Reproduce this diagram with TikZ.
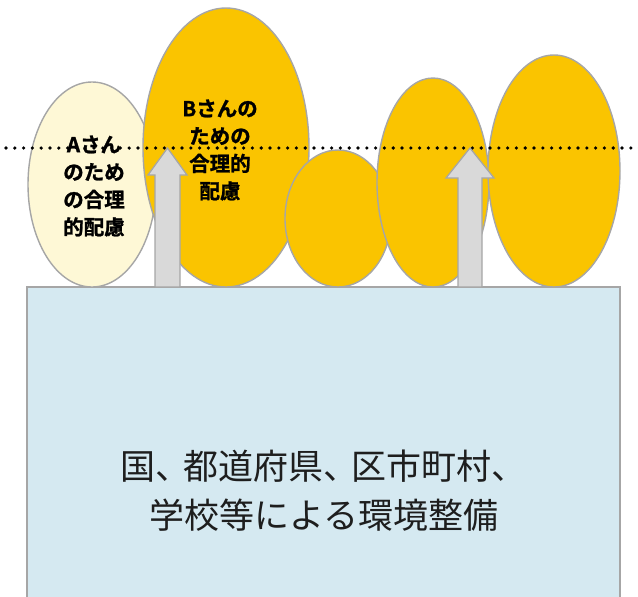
\documentclass[tikz,border=0pt]{standalone}
\usepackage{fontspec}
\newfontfamily\jpfont{Noto Sans CJK JP}
\newfontfamily\jpbold{Noto Sans CJK JP}[BoldFont={* Bold}, BoldFeatures={FakeBold=1.2}]
\usetikzlibrary{shapes.geometric}
\definecolor{gold}{HTML}{FAC400}
\definecolor{cream}{HTML}{FEF8D6}
\definecolor{paleblue}{HTML}{D5E9F1}
\definecolor{edgegray}{HTML}{A6A6A6}
\definecolor{arrowgray}{HTML}{D9D9D9}
\definecolor{txtdark}{HTML}{1E1E1E}
\newcommand{\jc}{、\kern-7pt}
\tikzset{
  blob/.style={ellipse, draw=edgegray, line width=1.4pt, inner sep=0pt},
  blobtext/.style={align=center, text=black, font=\jpbold\bfseries\fontsize{20.5}{27.5}\selectfont},
  uparrow/.style={fill=arrowgray, draw=edgegray, line width=1.3pt, line join=miter},
  levelline/.style={line width=3.6pt, dash pattern=on 0pt off 8.8pt, line cap=round, black}
}
\begin{document}
\begin{tikzpicture}[x=1pt, y=-1pt]
\useasboundingbox (0,0) rectangle (638,597);
\fill[white] (0,0) rectangle (638,597);
% base rectangle
\fill[paleblue] (27,287) rectangle (620,597);
\draw[edgegray, line width=1.4pt] (27,600) -- (27,287) -- (620,287) -- (620,600);
\node[align=center, text=txtdark, font=\jpfont\fontsize{35}{49}\selectfont] (base) at (323.5,491) {国\jc 都道府県\jc 区市町村、\\学校等による環境整備};
% ellipses
\node[blob, fill=cream, minimum width=128pt, minimum height=205pt] (A) at (92,184.5) {};
\node[blobtext] (Atext) at (94,186) {Aさん\\のため\\の合理\\的配慮};
\node[blob, fill=gold, minimum width=166pt, minimum height=279pt] (B) at (226,147.5) {};
\node[blobtext] (Btext) at (220,150) {Bさんの\\ための\\合理的\\配慮};
\node[blob, fill=gold, minimum width=106pt, minimum height=137pt] (C) at (338,218.5) {};
\node[blob, fill=gold, minimum width=112pt, minimum height=209pt] (D) at (433,182.5) {};
\node[blob, fill=gold, minimum width=132pt, minimum height=232pt] (E) at (554,171) {};
% level line
\coordinate (L1) at (6,148);
\coordinate (L2) at (640,148);
\draw[levelline] (L1) -- (L2);
% arrows
\draw[uparrow] (155,287) -- (155,175) -- (148,175) -- (167.5,148) -- (187,175) -- (180,175) -- (180,287) -- cycle;
\draw[uparrow] (458,287) -- (458,178) -- (446,178) -- (470,148) -- (494,178) -- (482,178) -- (482,287) -- cycle;
\end{tikzpicture}
\end{document}
